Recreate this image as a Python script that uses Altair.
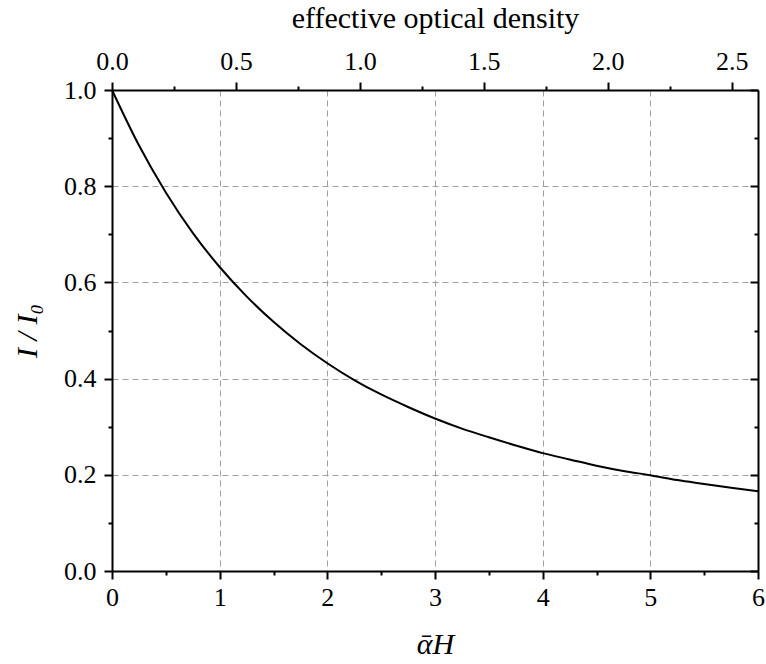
import altair as alt
import pandas as pd

# curve
alpha_h = [0, 0.25, 0.5, 0.75, 1.0, 1.25, 1.5, 1.75, 2.0, 2.25, 2.5, 2.75, 3.0,
           3.25, 3.5, 3.75, 4.0, 4.25, 4.5, 4.75, 5.0, 5.25, 5.5, 5.75, 6.0]
intensity = [1.0, 0.885, 0.787, 0.703, 0.632, 0.571, 0.518, 0.472, 0.432, 0.397,
             0.367, 0.341, 0.317, 0.296, 0.278, 0.261, 0.245, 0.232, 0.219, 0.208,
             0.199, 0.189, 0.181, 0.173, 0.166]

bottom_ticks = [0, 0.5, 1, 1.5, 2, 2.5, 3, 3.5, 4, 4.5, 5, 5.5, 6]
left_ticks = [0, 0.1, 0.2, 0.3, 0.4, 0.5, 0.6, 0.7, 0.8, 0.9, 1.0]
top_ticks = [0, 0.25, 0.5, 0.75, 1.0, 1.25, 1.5, 1.75, 2.0, 2.25, 2.5]
od_max = 2.606  # effective optical density at alphaH = 6

df = pd.DataFrame({"x": alpha_h, "y": intensity})

FONT = "Liberation Serif"
GRID = "#a0a0a0"

major_x = "datum.value % 1 === 0"
major_y = "round(datum.value * 10) % 2 === 0"
major_top = "round(datum.value * 4) % 2 === 0"

base = alt.Chart(df)

curve = base.mark_line(color="black", strokeWidth=2, interpolate="monotone").encode(
    x=alt.X("x:Q", scale=alt.Scale(domain=[0, 6], nice=False, zero=False),
            axis=alt.Axis(
                orient="bottom", values=bottom_ticks, title="ᾱH",
                labelExpr=f"{major_x} ? format(datum.value, 'd') : ''",
                tickSize={"condition": {"test": major_x, "value": 8}, "value": 4},
                gridOpacity={"condition": {"test": major_x, "value": 1}, "value": 0},
                grid=True, gridDash=[6, 4], gridColor=GRID, gridWidth=1,
                labelFlush=False, labelOverlap=False, labelPadding=5,
                titleFontStyle="italic", titleFontSize=30, titlePadding=19,
            )),
    y=alt.Y("y:Q", scale=alt.Scale(domain=[0, 1], nice=False, zero=False),
            axis=alt.Axis(
                orient="left", values=left_ticks, title="I / I₀",
                labelExpr=f"{major_y} ? format(datum.value, '.1f') : ''",
                tickSize={"condition": {"test": major_y, "value": 8}, "value": 4},
                gridOpacity={"condition": {"test": major_y, "value": 1}, "value": 0},
                grid=True, gridDash=[6, 4], gridColor=GRID, gridWidth=1,
                labelFlush=False, labelOverlap=False, labelPadding=8,
                titleFontStyle="italic", titleFontSize=30, titlePadding=21,
            )),
)

frame = base.mark_line(opacity=0).transform_calculate(
    od=f"datum.x * {od_max} / 6"
).encode(
    x=alt.X("od:Q", scale=alt.Scale(domain=[0, od_max], nice=False, zero=False),
            axis=alt.Axis(
                orient="top", values=top_ticks, title="effective optical density",
                labelExpr=f"{major_top} ? format(datum.value, '.1f') : ''",
                tickSize={"condition": {"test": major_top, "value": 8}, "value": 4},
                grid=False, labelFlush=False, labelOverlap=False, labelPadding=8,
                titleFontSize=30, titlePadding=15,
            )),
    y=alt.Y("y:Q", scale=alt.Scale(domain=[0, 1], nice=False, zero=False),
            axis=alt.Axis(
                orient="right", values=left_ticks, title=None, labels=False,
                tickSize={"condition": {"test": major_y, "value": -8}, "value": -4},
                grid=False,
            )),
)

chart = alt.layer(frame, curve).resolve_scale(x="independent", y="independent").properties(
    width=646, height=481,
    autosize=alt.AutoSizeParams(type="none"),
    padding={"left": 112, "top": 90, "right": 8, "bottom": 93},
    background="white",
).configure_view(stroke=None).configure_axis(
    domainColor="black", domainWidth=2, tickColor="black", tickWidth=2,
    labelFont=FONT, titleFont=FONT, labelFontSize=26, labelColor="black",
    titleColor="black", titleFontWeight="normal",
)

chart.save("out.html", embed_options={"renderer": "svg", "actions": False})
